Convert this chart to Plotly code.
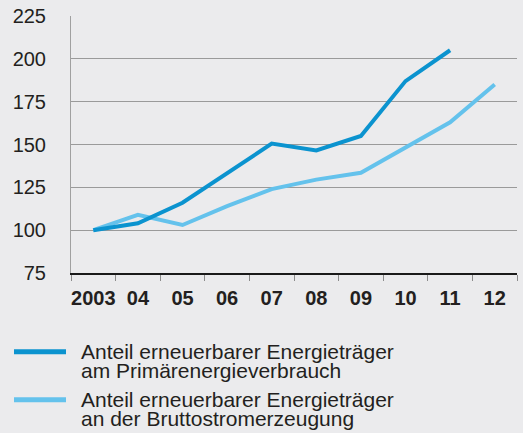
import plotly.graph_objects as go

years = ["2003", "04", "05", "06", "07", "08", "09", "10", "11", "12"]
primary = [100, 104, 116, 133, 150.5, 146.5, 155, 187, 205, None]
electricity = [100, 109, 103, 114, 124, 129.5, 133.5, 148, 163, 185]
yticks = [75, 100, 125, 150, 175, 200, 225]
legend_lines = [
    ["Anteil erneuerbarer Energieträger", "am Primärenergieverbrauch"],
    ["Anteil erneuerbarer Energieträger", "an der Bruttostromerzeugung"],
]

DARK = "#0b93cf"
LIGHT = "#64c2ec"
BG = "#ebebed"
FONT = "Liberation Sans, Arial, Helvetica, sans-serif"

fig = go.Figure()
fig.add_trace(go.Scatter(x=years, y=electricity, mode="lines",
                         line=dict(color=LIGHT, width=4), showlegend=False))
fig.add_trace(go.Scatter(x=years, y=primary, mode="lines",
                         line=dict(color=DARK, width=4), showlegend=False))

fig.update_layout(
    width=523, height=433,
    margin=dict(l=71, r=6, t=16, b=160),
    paper_bgcolor=BG, plot_bgcolor=BG,
    font=dict(family=FONT, size=20, color="#231f20"),
    xaxis=dict(type="category", range=[-0.5, 9.5], tickson="boundaries",
               ticks="outside", ticklen=6, tickcolor="#8c8c8c", tickwidth=1,
               showgrid=False, showline=True, linecolor="#1a1a1a", linewidth=2,
               tickangle=0, automargin=False,
               tickfont=dict(family=FONT, size=20, color="#231f20", weight="bold"),
               ticklabelstandoff=6),
    yaxis=dict(range=[75, 225], tickvals=yticks, showgrid=True,
               gridcolor="#9a9a9a", gridwidth=1, zeroline=False,
               showline=True, linecolor="#a0a0a0", linewidth=1, automargin=False,
               ticks="", tickfont=dict(family=FONT, size=20, color="#231f20"),
               ticklabelstandoff=20),
)

swatch_y = [351.7, 399.8]
colors = [DARK, LIGHT]
H = 433
for i, lines in enumerate(legend_lines):
    y0 = swatch_y[i]
    fig.add_shape(type="line", xref="paper", yref="paper",
                  x0=(14 - 71) / 446, x1=(66 - 71) / 446,
                  y0=(H - 160 - y0) / 257, y1=(H - 160 - y0) / 257,
                  line=dict(color=colors[i], width=5))
    for j, txt in enumerate(lines):
        yc = y0 + j * 18.5
        fig.add_annotation(text=txt, xref="paper", yref="paper",
                           x=(79 - 71) / 446, y=(H - 160 - yc) / 257,
                           xanchor="left", yanchor="middle", showarrow=False,
                           font=dict(family=FONT, size=21, color="#231f20"))

fig.write_html("out.html",
               config={"displayModeBar": False, "staticPlot": True},
               post_script="document.body.style.margin='0';document.body.style.padding='0';document.body.style.overflow='hidden';")
